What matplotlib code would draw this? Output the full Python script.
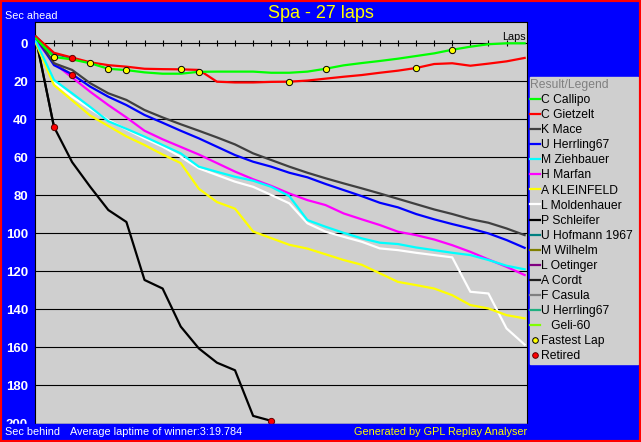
import matplotlib.pyplot as plt
from matplotlib.patches import Rectangle

plt.rcParams['font.family'] = 'Liberation Sans'

drivers = ['C Callipo', 'C Gietzelt', 'K Mace', 'U Herrling67', 'M Ziehbauer', 'H Marfan',
           'A KLEINFELD', 'L Moldenhauer', 'P Schleifer', 'U Hofmann 1967', 'M Wilhelm',
           'L Oetinger', 'A Cordt', 'F Casula', 'U Herrling67', '   Geli-60']
colors = ['#00ff00', '#ff0000', '#404040', '#0000ff', '#00ffff', '#ff00ff', '#ffff00', '#ffffff',
          '#000000', '#008080', '#808000', '#800080', '#202020', '#808080', '#20b080', '#80ff00']

# seconds behind the winner's average pace, lap 0..27
callipo = [-2.5, 7.2, 8.5, 10.5, 13.4, 14.1, 15.3, 16.0, 16.0, 15.0, 14.9, 14.9, 14.9, 15.5,
           15.5, 14.9, 13.4, 11.6, 10.4, 9.3, 8.1, 6.7, 5.3, 3.4, 1.8, 0.5, 0.0, 0.0]
gietzelt = [-3.5, 5.0, 7.5, 10.0, 11.5, 12.3, 13.4, 13.6, 13.7, 14.0, 20.2, 20.6, 20.6, 20.3,
            20.2, 19.6, 18.6, 17.6, 16.7, 15.5, 14.4, 13.0, 10.9, 10.5, 11.8, 10.7, 9.5, 7.7]
mace = [-3.5, 10.5, 14.0, 21.0, 26.3, 29.8, 35.1, 39.0, 42.6, 46.0, 49.5, 53.2, 57.9, 61.4,
        64.9, 68.1, 71.0, 73.7, 76.3, 79.0, 81.8, 84.6, 87.4, 89.8, 92.5, 94.4, 97.4, 100.9]
herrling = [-3.0, 11.5, 16.3, 22.8, 28.1, 32.5, 37.7, 41.8, 46.0, 50.0, 54.4, 58.8, 62.3, 64.9,
            68.1, 70.5, 74.0, 77.2, 80.4, 83.9, 86.3, 89.8, 92.6, 95.1, 97.4, 100.0, 103.5, 107.6]
ziehbauer = [-1.0, 19.3, 26.3, 33.5, 41.0, 45.0, 49.1, 53.5, 57.9, 64.9, 67.6, 70.2, 72.3, 75.5,
             80.4, 93.0, 96.5, 99.7, 102.6, 104.9, 105.6, 107.4, 108.8, 110.2, 111.4, 114.0, 117.0, 118.9]
marfan = [-1.5, 10.5, 18.0, 25.5, 32.5, 39.0, 46.0, 50.5, 54.5, 58.5, 63.0, 67.5, 71.5, 75.0,
          79.0, 82.5, 85.1, 89.5, 92.6, 95.6, 99.1, 100.9, 103.2, 106.2, 109.7, 113.7, 117.6, 121.9]
kleinfeld = [0.0, 22.0, 30.0, 38.0, 43.5, 49.0, 53.5, 58.5, 63.0, 76.5, 83.5, 87.0, 99.0, 102.5,
             106.0, 108.0, 111.0, 114.0, 116.5, 121.0, 125.5, 127.2, 129.0, 132.5, 137.7, 139.5, 143.0, 144.7]
moldenhauer = [-1.0, 20.5, 28.1, 34.5, 40.4, 45.3, 50.0, 54.4, 59.7, 65.8, 69.3, 72.8, 75.5, 79.8,
               84.2, 94.7, 99.1, 101.8, 104.4, 107.9, 108.8, 110.2, 111.4, 112.6, 130.7, 131.6, 150.0, 158.5]
schleifer = [-2.5, 44.0, 62.5, 75.5, 87.7, 94.0, 124.5, 129.0, 149.0, 160.5, 168.0, 172.0, 196.0, 198.6]
hofmann = [-3.5, 5.5, 7.8]
wilhelm = [-3.0, 10.5, 16.7]
oetinger = []
cordt = [-2.5, 44.0]
casula = []
herrling2 = []
geli = []

gaps = [callipo, gietzelt, mace, herrling, ziehbauer, marfan, kleinfeld, moldenhauer,
        schleifer, hofmann, wilhelm, oetinger, cordt, casula, herrling2, geli]

# fastest laps: driver index and lap number
fast_driver = [0, 0, 0, 0, 1, 0, 1, 0, 1, 0]
fast_lap = [1, 3, 4, 5, 8, 9, 14, 16, 21, 23]

total_laps = 27

fig = plt.figure(figsize=(6.41, 4.42), dpi=100, facecolor='#0000ff')
ax = fig.add_axes([35 / 641, 1 - 423.5 / 442, 492 / 641, 401.5 / 442])
ax.set_facecolor('#cfcfcf')
ax.set_xlim(-0.05, 27.13)
ax.set_ylim(200, -11.2)
ax.set_yticks(range(0, 201, 20))
ax.set_xticks([])
ax.grid(axis='y', color='black', lw=0.8, zorder=1)
ax.set_axisbelow(True)
ax.tick_params(axis='y', length=0, pad=5, labelcolor='white', labelsize=9.5)
for lbl in ax.get_yticklabels():
    lbl.set_fontweight('bold')
for s in ax.spines.values():
    s.set_color('black')
    s.set_linewidth(0.8)

tick_laps = list(range(1, total_laps))
ax.plot(tick_laps, [0] * len(tick_laps), '|', color='black', ms=5, mew=0.8, zorder=2)

handles = []
for i in reversed(range(len(drivers))):
    g = gaps[i]
    ln, = ax.plot(range(len(g)), g, color=colors[i], lw=1.6, label=drivers[i], zorder=3)
    handles.insert(0, ln)

fx = fast_lap
fy = [gaps[d][l] for d, l in zip(fast_driver, fast_lap)]
fl, = ax.plot(fx, fy, 'o', ms=4.5, mfc='#ffff00', mec='black', mew=0.7, ls='none',
              label='Fastest Lap', zorder=5)

rx, ry = [], []
for g in gaps:
    if 0 < len(g) <= total_laps:
        rx.append(len(g) - 1)
        ry.append(g[-1])
rt, = ax.plot(rx, ry, 'o', ms=4.5, mfc='#ff0000', mec='#600000', mew=0.7, ls='none',
              label='Retired', zorder=5)
handles += [fl, rt]

# legend panel
fig.patches.append(Rectangle((530 / 641, 1 - 364 / 442), 108 / 641, 287 / 442,
                             transform=fig.transFigure, color='#cfcfcf', zorder=0))
leg = fig.legend(handles=handles, loc='upper left', bbox_to_anchor=(530 / 641, 1 - 79 / 442),
                 bbox_transform=fig.transFigure, frameon=False, fontsize=8.7,
                 title='Result/Legend', title_fontsize=8.7, alignment='left',
                 borderpad=0, borderaxespad=0, labelspacing=0.255, handlelength=0.8,
                 handletextpad=0.15, markerscale=0.9)
leg.get_title().set_color('#808080')

# bottom strip and frame
fig.patches.append(Rectangle((0, 0), 1, 18.5 / 442, transform=fig.transFigure,
                             color='#0000ff', zorder=1))
fig.patches.append(Rectangle((0, 0), 1, 1, transform=fig.transFigure, fill=False,
                             edgecolor='#ff0000', lw=3, zorder=2))

fig.text(0.5, 1 - 14 / 442, 'Spa - 27 laps', color='#ffff00', fontsize=13, ha='center', va='center')
fig.text(5 / 641, 1 - 16 / 442, 'Sec ahead', color='white', fontsize=7.8, va='center')
fig.text(526 / 641, 1 - 37 / 442, 'Laps', color='black', fontsize=7.8, ha='right', va='center')
fig.text(5 / 641, 1 - 432 / 442, 'Sec behind', color='white', fontsize=7.8, va='center')
fig.text(70 / 641, 1 - 432 / 442, 'Average laptime of winner:3:19.784', color='white',
         fontsize=7.8, va='center')
fig.text(527 / 641, 1 - 432 / 442, 'Generated by GPL Replay Analyser', color='#ffff00',
         fontsize=7.8, ha='right', va='center')

plt.savefig('out.png', dpi=100, facecolor=fig.get_facecolor())
